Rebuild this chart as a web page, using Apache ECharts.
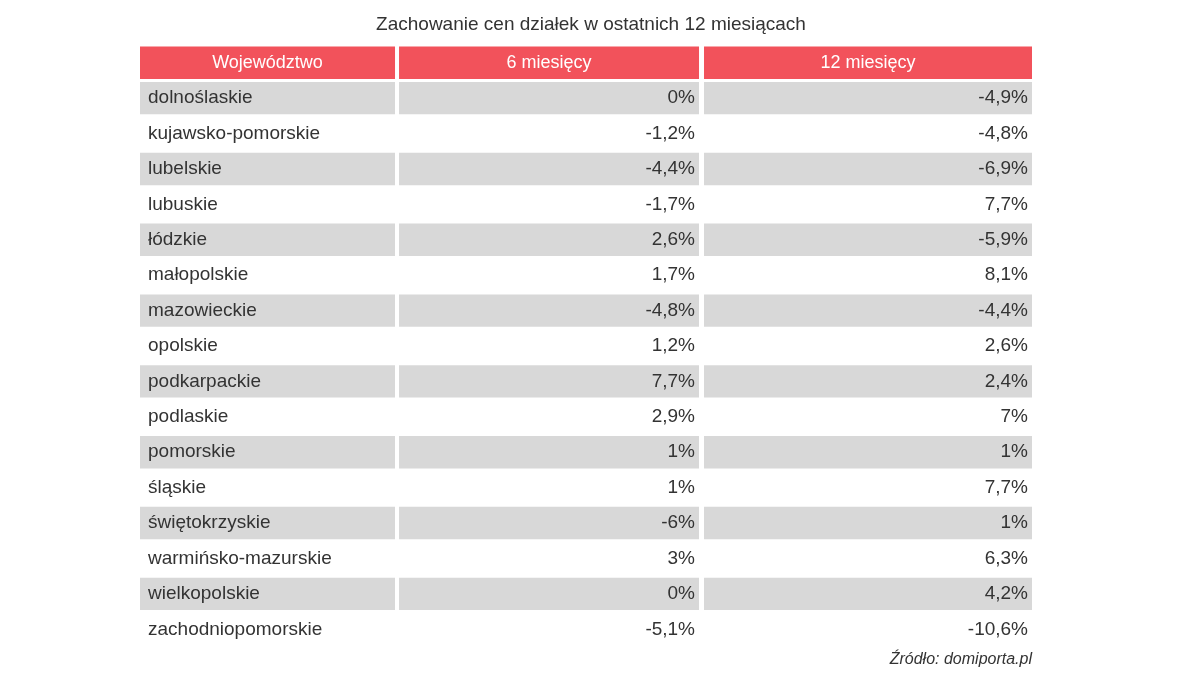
<!DOCTYPE html>
<html><head><meta charset="utf-8">
<script src="https://cdn.jsdelivr.net/npm/echarts@6/dist/echarts.min.js"></script>
<style>html,body{margin:0;background:#fff}#c{width:1200px;height:680px}</style>
</head><body><div id="c"></div>
<script>
const headers = ['Województwo', '6 miesięcy', '12 miesięcy'];
const regions = ['dolnoślaskie','kujawsko-pomorskie','lubelskie','lubuskie','łódzkie','małopolskie','mazowieckie','opolskie','podkarpackie','podlaskie','pomorskie','śląskie','świętokrzyskie','warmińsko-mazurskie','wielkopolskie','zachodniopomorskie'];
const m6 = ['0%','-1,2%','-4,4%','-1,7%','2,6%','1,7%','-4,8%','1,2%','7,7%','2,9%','1%','1%','-6%','3%','0%','-5,1%'];
const m12 = ['-4,9%','-4,8%','-6,9%','7,7%','-5,9%','8,1%','-4,4%','2,6%','2,4%','7%','1%','7,7%','1%','6,3%','4,2%','-10,6%'];

const rows = ['header'].concat(regions);
const cols = [[0,0.2859],[0.2904,0.6267],[0.6323,1]];
const font = '"Liberation Sans", Arial, sans-serif';
const chart = echarts.init(document.getElementById('c'));
chart.setOption({
  animation:false,
  title:{text:'Zachowanie cen działek w ostatnich 12 miesiącach',left:586,textAlign:'center',top:10,
    textStyle:{fontFamily:font,fontSize:19,fontWeight:'normal',color:'#333'}},
  grid:{left:140,right:168,top:45,bottom:33},
  xAxis:{type:'value',min:0,max:1,show:false},
  yAxis:{type:'category',data:rows,inverse:true,show:false},
  graphic:[{type:'text',right:168,top:652,style:{text:'Źródło: domiporta.pl',font:'italic 16px '+font,fill:'#333'}}],
  series:[{type:'custom',data:rows.map((r,i)=>[0,i]),
    renderItem:function(params,api){
      const i=api.value(1);
      const yc=api.coord([0,i])[1];
      const h=api.size([0,1])[1];
      const x0=api.coord([0,i])[0], x1=api.coord([1,i])[0], W=x1-x0;
      const children=[];
      const isH=i===0, gray=!isH && (i-1)%2===0;
      cols.forEach((c,ci)=>{
        const l=x0+c[0]*W, r=x0+c[1]*W;
        if(isH||gray) children.push({type:'rect',shape:{x:l,y:yc-h/2+1.5,width:r-l,height:h-3},
          style:{fill:isH?'#f2525b':'#d8d8d8'}});
        let txt, align, tx;
        if(isH){txt=headers[ci];align='center';tx=(l+r)/2;}
        else if(ci===0){txt=regions[i-1];align='left';tx=l+8;}
        else {txt=(ci===1?m6:m12)[i-1];align='right';tx=r-4;}
        children.push({type:'text',style:{text:txt,x:tx,y:yc,textAlign:align,textVerticalAlign:'middle',
          font:(isH?'18px ':'19px ')+font,fill:isH?'#fff':'#333'}});
      });
      return {type:'group',children};
    }}]
});
</script></body></html>
